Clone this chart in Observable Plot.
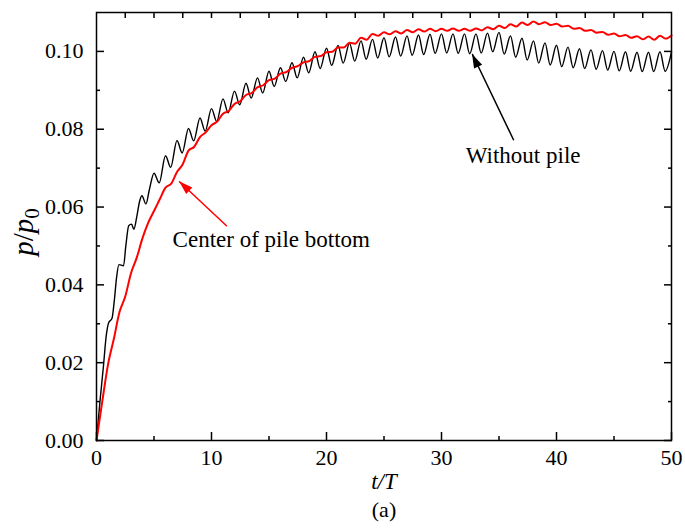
<!DOCTYPE html>
<html><head><meta charset="utf-8">
<script src="https://cdn.jsdelivr.net/npm/d3@7"></script>
<script src="https://cdn.jsdelivr.net/npm/@observablehq/plot@0.6"></script>
<style>
body{margin:0;background:#fff}
svg, svg text{font-family:"Liberation Serif","Times New Roman",serif !important}
</style>
</head><body><div id="chart"></div>
<script>
// Without pile (black)
const blackT = [0,0.3,0.6,0.85,1.05,1.35,1.55,1.75,1.95,2.35,2.55,2.8,3.05,3.25,3.5,3.75,3.95,4.3,4.6,
  5.0,5.45,6.0,6.45,7.0,7.45,8.0,8.45,9.0,9.45,10.0,10.45,11.0,11.45,12.0,12.45,13.0,13.45,14.0,14.45,
  15.0,15.45,16.0,16.45,17.0,17.45,18.0,18.45,19.0,19.45,20.0,20.45,21.0,21.45,22.0,22.45,23.0,23.45,
  24.0,24.45,25.0,25.45,26.0,26.45,27.0,27.45,28.0,28.45,29.0,29.45,30.0,30.45,31.0,31.45,32.0,32.45,
  33.0,33.45,34.0,34.45,35.0,35.45,36.0,36.45,37.0,37.45,38.0,38.45,39.0,39.45,40.0,40.45,41.0,41.45,
  42.0,42.45,43.0,43.45,44.0,44.45,45.0,45.45,46.0,46.45,47.0,47.45,48.0,48.45,49.0,49.45,50.0];
const blackP = [0,0.010,0.019,0.027,0.0302,0.0314,0.036,0.042,0.0452,0.0449,0.050,0.0552,0.0556,0.0543,0.0575,0.0615,0.0629,0.0608,0.0645,
  0.0687,0.0662,0.0732,0.0702,0.0771,0.0739,0.0802,0.0770,0.0829,0.0795,0.0853,0.0820,0.0878,0.0842,0.0898,0.0863,0.0918,0.0880,0.0932,0.0893,
  0.0949,0.0910,0.0958,0.0923,0.0971,0.0932,0.0985,0.0945,0.0999,0.0956,0.1008,0.0964,0.1015,0.0970,0.1021,0.0975,0.1027,0.0980,
  0.1031,0.0983,0.1035,0.0986,0.1037,0.0988,0.1040,0.0990,0.1042,0.0992,0.1044,0.0995,0.1045,0.0996,0.1045,0.0995,0.1045,0.0994,
  0.1045,0.0996,0.1047,0.0999,0.1049,0.0993,0.1040,0.0985,0.1034,0.0978,0.1027,0.0970,0.1022,0.0965,0.1016,0.0961,0.1011,0.0958,
  0.1007,0.0956,0.1004,0.0954,0.1002,0.0952,0.1000,0.0950,0.0999,0.0949,0.0998,0.0948,0.0998,0.0948,0.0999,0.0949,0.0999];
// Center of pile bottom (red)
const redT = [0,0.5,1.0,1.5,2.0,2.5,3.0,3.5,4.0,4.5,5.0,5.5,6.0,6.5,7.0,7.5,8.0,8.5,9.0,9.5,10.0,10.5,11.0,11.5,
  12.0,12.5,13.0,13.5,14.0,14.5,15.0,15.5,16.0,16.5,17.0,17.5,18.0,18.5,19.0,19.5,20.0,20.5,21.0,21.5,22.0,22.5,
  23.0,23.5,24.0,24.5,25.0,25.5,26.0,26.5,27.0,27.5,28.0,28.5,29.0,29.5,30.0,30.5,31.0,31.5,32.0,32.5,33.0,33.5,
  34.0,34.5,35.0,35.5,36.0,36.5,37.0,37.5,38.0,38.5,39.0,39.5,40.0,40.5,41.0,41.5,42.0,42.5,43.0,43.5,44.0,44.5,
  45.0,45.5,46.0,46.5,47.0,47.5,48.0,48.5,49.0,49.5,50.0];
const redP = [0,0.010,0.0195,0.026,0.033,0.037,0.043,0.047,0.052,0.056,0.059,0.062,0.065,0.066,0.069,0.071,0.0745,0.0755,0.078,0.0792,0.081,0.082,0.084,0.0847,
  0.0865,0.0872,0.0888,0.0893,0.0908,0.0913,0.0926,0.0930,0.0943,0.0947,0.0958,0.0962,0.0972,0.0975,0.0986,0.0988,0.0998,0.0999,0.1010,0.1010,0.1022,0.1020,
  0.1035,0.1030,0.1045,0.1040,0.1049,0.1044,0.1052,0.1046,0.1055,0.1049,0.1057,0.1051,0.1058,0.1052,0.1058,0.1053,0.1059,0.1053,0.1058,0.1053,0.1059,0.1054,
  0.1062,0.1057,0.1066,0.1060,0.1070,0.1064,0.1074,0.1068,0.1077,0.1070,0.1075,0.1068,0.1071,0.1064,0.1066,0.1058,0.1060,0.1053,0.1055,0.1048,0.1050,0.1043,
  0.1046,0.1039,0.1042,0.1035,0.1039,0.1031,0.1038,0.1030,0.1040,0.1033,0.1041];

const xMajor = [0,10,20,30,40,50];
const xMinor = [5,15,25,35,45];
const xTop = [2.5,5,7.5,10,12.5,15,17.5,20,22.5,25,27.5,30,32.5,35,37.5,40,42.5,45,47.5];
const yMajor = [0,0.02,0.04,0.06,0.08,0.10];
const yMinor = [0.01,0.03,0.05,0.07,0.09];

const notes = [
  {label:"Without pile", t:37.1, p:0.0733, color:"black", t1:36.26, p1:0.0773, t2:32.7, p2:0.0992},
  {label:"Center of pile bottom", t:15.2, p:0.0517, color:"#ff0000", t1:11.3, p1:0.0552, t2:7.22, p2:0.0665}
];

const FONT = "Liberation Serif";
const black = blackT.map((t,i)=>({t, p:blackP[i]}));
const red = redT.map((t,i)=>({t, p:redP[i]}));

const chart = Plot.plot({
  width:685, height:529,
  marginLeft:96, marginRight:14, marginTop:12, marginBottom:89,
  x:{domain:[0,50]}, y:{domain:[0,0.11]},
  style:{fontFamily:FONT, fontSize:"22px", background:"white", color:"black"},
  marks:[
    Plot.line(black,{x:"t",y:"p",stroke:"black",strokeWidth:1.4,curve:"monotone-x"}),
    Plot.line(red,{x:"t",y:"p",stroke:"#ff0000",strokeWidth:2,curve:"monotone-x"}),
    Plot.axisX({ticks:xMajor, tickSize:-8, tickPadding:17, tickFormat:d3.format("d"), label:null, strokeWidth:1.5, fontSize:22, fontFamily:FONT}),
    Plot.axisX({ticks:xMinor, tickSize:-4, tickFormat:()=>"", label:null, strokeWidth:1.5}),
    Plot.axisX({anchor:"top", ticks:xTop, tickSize:-5, tickFormat:()=>"", label:null, strokeWidth:1.5}),
    Plot.axisY({ticks:yMajor, tickSize:-8, tickPadding:21, tickFormat:d3.format(".2f"), label:null, strokeWidth:1.5, fontSize:22, fontFamily:FONT}),
    Plot.axisY({ticks:yMinor, tickSize:-4, tickFormat:()=>"", label:null, strokeWidth:1.5}),
    Plot.axisY({anchor:"right", ticks:yMajor, tickSize:-8, tickFormat:()=>"", label:null, strokeWidth:1.5}),
    Plot.axisY({anchor:"right", ticks:yMinor, tickSize:-4, tickFormat:()=>"", label:null, strokeWidth:1.5}),
    Plot.frame({stroke:"black", strokeWidth:1.5}),
    Plot.text(notes,{x:"t",y:"p",text:"label",fontSize:23,fill:"black",fontFamily:FONT}),
    Plot.arrow(notes,{x1:"t1",y1:"p1",x2:"t2",y2:"p2",stroke:"color",strokeWidth:1.5,headLength:0,inset:0}),
    Plot.text(["t/T"],{frameAnchor:"bottom",dy:48,fontSize:23,fontStyle:"italic",fontFamily:FONT}),
    Plot.text(["(a)"],{frameAnchor:"bottom",dy:76,fontSize:22,fontFamily:FONT})
  ]
});

// filled arrow heads computed through the plot's scales
const sx = chart.scale("x"), sy = chart.scale("y");
const svg = d3.select(chart);
notes.forEach(n=>{
  const x1 = sx.apply(n.t1), y1 = sy.apply(n.p1), x2 = sx.apply(n.t2), y2 = sy.apply(n.p2);
  const a = Math.atan2(y2-y1, x2-x1), L = 14, W = 4.5;
  const bx = x2 - L*Math.cos(a), by = y2 - L*Math.sin(a);
  const px = -Math.sin(a)*W, py = Math.cos(a)*W;
  svg.append("path")
    .attr("d",`M${x2},${y2}L${bx+px},${by+py}L${bx-px},${by-py}Z`)
    .attr("fill",n.color);
});
// y-axis label with italic p and subscript 0
const yl = svg.append("text")
  .attr("transform","translate(33,232) rotate(-90)")
  .attr("text-anchor","middle")
  .attr("font-family",FONT)
  .attr("font-size",29)
  .attr("fill","black");
yl.append("tspan").attr("font-style","italic").text("p");
yl.append("tspan").text("/");
yl.append("tspan").attr("font-style","italic").text("p");
yl.append("tspan").attr("font-size",21).attr("dy",6).text("0");

document.getElementById("chart").appendChild(chart);
</script>
</body></html>
